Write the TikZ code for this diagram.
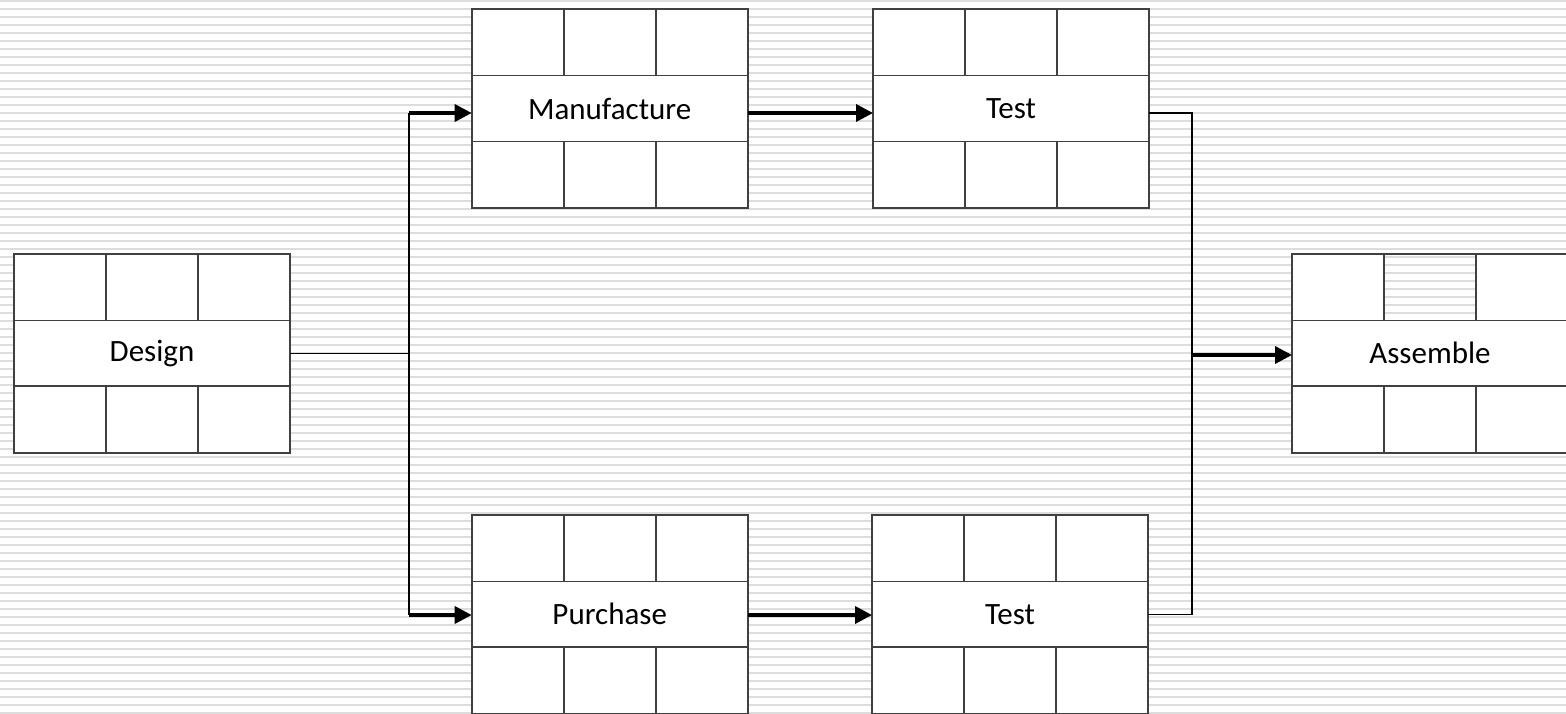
\documentclass[tikz,border=0pt]{standalone}
\usepackage{fontspec}
\setmainfont{Carlito}
\usetikzlibrary{arrows.meta,positioning}

\definecolor{stripe}{RGB}{221,221,221}
\definecolor{edge}{RGB}{64,64,64}

\tikzset{
  stage/.style={draw=edge, fill=white, line width=0.8pt, outer sep=0pt, inner sep=0pt,
    minimum width=138pt, minimum height=32.9pt, font=\fontsize{15.5}{18}\selectfont},
  cell/.style={draw=edge, fill=white, line width=0.8pt, outer sep=0pt, inner sep=0pt,
    minimum width=46pt, minimum height=33.3pt},
  opencell/.style={cell, fill=none},
  stripeline/.style={stripe, line width=1pt},
  link/.style={line width=0.65pt},
  flow/.style={line width=1.75pt, -{Triangle[length=8.5pt,width=8.5pt]}}
}

% three cells above and three below a stage node
\newcommand{\cells}[2][cell]{%
  \node[cell, anchor=south west] (#2-up0) at (#2.north west) {};
  \node[#1, anchor=south] (#2-up1) at (#2.north) {};
  \node[cell, anchor=south east] (#2-up2) at (#2.north east) {};
  \foreach \i in {0,1,2}
    \node[cell, anchor=north west] (#2-dn\i) at ([xshift=\i*46pt]#2.south west) {};
}

\begin{document}
\begin{tikzpicture}[x=0.5pt, y=-0.5pt]
  \useasboundingbox (0,0) rectangle (1566,713);
  \clip (0,0) rectangle (1566,713);
  % striped background
  \foreach \y in {1,9,...,713}
    \draw[stripeline] (0,\y) -- (1566,\y);

  % stages
  \node[stage] (des) at (152,353.2) {Design};
  \node[stage] (man) at (609.7,108.5) {Manufacture};
  \node[stage] (tstm) at (1011,108.5) {Test};
  \node[stage] (pur) at (609.7,614.3) {Purchase};
  \node[stage] (tstp) at (1010,614.3) {Test};
  \node[stage] (asm) at (1430,353.2) {Assemble};
  \cells{des}
  \cells{man}
  \cells{tstm}
  \cells{pur}
  \cells{tstp}
  \cells[opencell]{asm}

  % fork and join
  \coordinate (forktop) at (409,113);
  \coordinate (forkbot) at (409,615);
  \coordinate (jointop) at (1192,113);
  \coordinate (joinbot) at (1192,614.3);

  \draw[link] (des.east) -- (des.east -| forktop);
  \draw[link] (forktop) -- (forkbot);
  \draw[flow] (forktop) -- (forktop -| man.west);
  \draw[flow] (forkbot) -- (forkbot -| pur.west);
  \draw[flow] (man.east |- forktop) -- (tstm.west |- forktop);
  \draw[flow] (pur.east |- forkbot) -- (tstp.west |- forkbot);
  \draw[link] (tstm.east |- jointop) -- (jointop) -- (joinbot) -- (tstp.east |- joinbot);
  \draw[flow] ([yshift=-0.9pt]asm.west -| jointop) -- ([yshift=-0.9pt]asm.west);
\end{tikzpicture}
\end{document}
